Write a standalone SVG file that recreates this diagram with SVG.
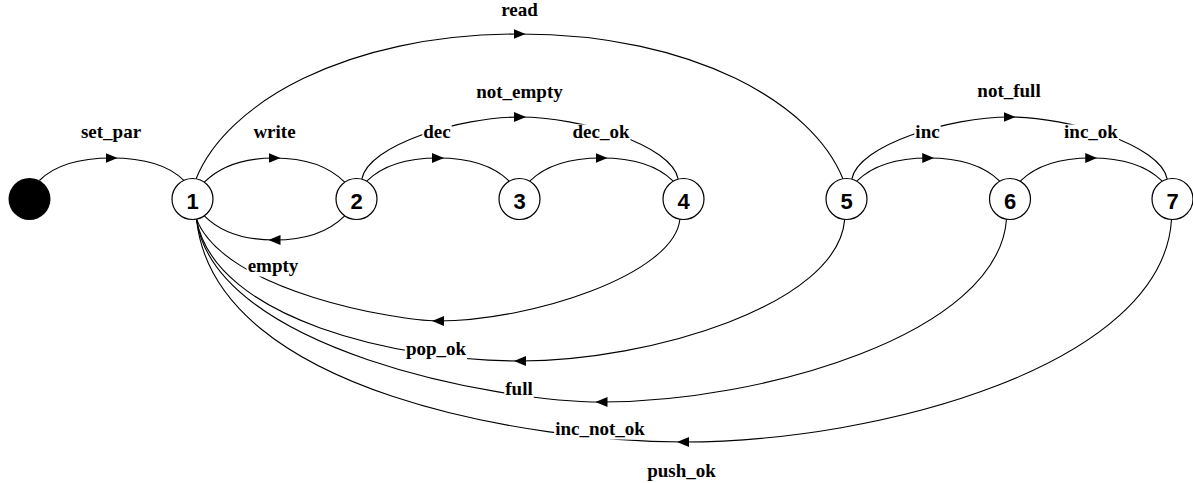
<svg xmlns="http://www.w3.org/2000/svg" width="1193" height="483" viewBox="0 0 1193 483">
  <style>
    .edge { fill: none; stroke: #000; stroke-width: 1.1; marker-mid: url(#arrow); }
    .lbl rect { fill: #fff; }
    .lbl text { font-family: "Liberation Serif", "Times New Roman", serif; font-weight: bold; font-size: 19px; text-anchor: middle; fill: #000; }
    .node circle { fill: #fff; stroke: #000; stroke-width: 1.2; }
    .node text { font-family: "Liberation Sans", Arial, sans-serif; font-weight: bold; font-size: 22px; text-anchor: middle; fill: #000; }
  </style>
  <defs>
    <!-- filled arrowhead, centred on the mid vertex of each transition -->
    <marker id="arrow" viewBox="-6 -6 12 12" markerWidth="12" markerHeight="12" refX="0" refY="0" orient="auto" markerUnits="userSpaceOnUse">
      <path d="M6,0 L-6,-5 L-6,5 Z" fill="#000"/>
    </marker>
  </defs>
  <rect width="1193" height="483" fill="#fff"/>

  <g id="connectors">
    <!-- upper transitions -->
    <path class="edge" d="M39.4,180.5 C55.4,164.5 81.6,158 111.6,158 C141.6,158 167.8,164.4 183.8,180.4"/>
    <path class="edge" d="M204.3,182.2 C220.3,166.2 244.5,158 274.5,158 C304.5,158 328.7,166.2 344.7,182.2"/>
    <path class="edge" d="M366.75,181.2 C382.75,165.2 408,158 438,158 C468,158 493.25,165.2 509.25,181.2"/>
    <path class="edge" d="M529.75,181.2 C545.75,165.2 571.5,158 601.5,158 C631.5,158 657.25,165.2 673.25,181.2"/>
    <path class="edge" d="M361.8,179.2 C368,145 460,117 520,117 C580,117 672,145 678.2,179.2"/>
    <path class="edge" d="M196.1,178.8 C226,104 345,34 519.5,34 C694,34 813,104 842.9,178.8"/>
    <path class="edge" d="M856.75,181.2 C872.75,165.2 898.25,158 928.25,158 C958.25,158 983.75,165.2 999.75,181.2"/>
    <path class="edge" d="M1020.25,181.2 C1036.25,165.2 1061.25,158 1091.25,158 C1121.25,158 1146.25,165.2 1162.25,181.2"/>
    <path class="edge" d="M851.8,179.2 C858,145 950,117 1009.5,117 C1069,117 1161,145 1167.2,179.2"/>
    <!-- return transitions into state 1 -->
    <path class="edge" d="M344.7,215.8 C328.7,231.8 304.5,240 274.5,240 C244.5,240 220.3,231.8 204.3,215.8"/>
    <path class="edge" d="M679.9,219.2 C674,275 530,321 438,321 C400,321 225,292 196.5,219.3"/>
    <path class="edge" d="M844.7,219.4 C838,305 650,361 520,361 C400,361 215,320 196.5,219.3"/>
    <path class="edge" d="M1006.5,219.2 C998,335 760,402 601.5,402 C500,402 215,350 196.5,219.3"/>
    <path class="edge" d="M1171.5,219.5 C1163,365 880,442 683,442 C540,442 215,395 196.5,219.3"/>

    <!-- transition labels -->
    <g class="lbl"><rect x="79.9" y="124.5" width="62.2" height="18"/><text x="111" y="138">set_par</text></g>
    <g class="lbl"><rect x="252.4" y="124.5" width="44.2" height="18"/><text x="274.5" y="138">write</text></g>
    <g class="lbl"><rect x="500" y="2.5" width="38.9" height="18"/><text x="519.5" y="16">read</text></g>
    <g class="lbl"><rect x="475.25" y="84.5" width="88.5" height="18"/><text x="519.5" y="98">not_empty</text></g>
    <g class="lbl"><rect x="422.3" y="124.5" width="29.4" height="18"/><text x="437" y="138">dec</text></g>
    <g class="lbl"><rect x="571.5" y="124.5" width="59" height="18"/><text x="601" y="138">dec_ok</text></g>
    <g class="lbl"><rect x="914.35" y="124.5" width="26.3" height="18"/><text x="927.5" y="138">inc</text></g>
    <g class="lbl"><rect x="976.35" y="83.5" width="65.3" height="18"/><text x="1009" y="97">not_full</text></g>
    <g class="lbl"><rect x="1063.1" y="124.5" width="55.8" height="18"/><text x="1091" y="138">inc_ok</text></g>
    <g class="lbl"><rect x="246.65" y="258.5" width="52.7" height="18"/><text x="273" y="272">empty</text></g>
    <g class="lbl"><rect x="404.9" y="341.5" width="62.2" height="18"/><text x="436" y="355">pop_ok</text></g>
    <g class="lbl"><rect x="504.25" y="381.5" width="29.5" height="18"/><text x="519" y="395">full</text></g>
    <g class="lbl"><rect x="554.15" y="421.5" width="91.7" height="18"/><text x="600" y="435">inc_not_ok</text></g>
    <g class="lbl"><rect x="646.2" y="463.5" width="70.6" height="18"/><text x="681.5" y="477">push_ok</text></g>
  </g>

  <!-- states -->
  <g id="init"><circle cx="29.5" cy="199" r="21" fill="#000"/></g>
  <g id="s1" class="node"><circle cx="192.5" cy="199" r="20.5"/><text x="192.5" y="208.5">1</text></g>
  <g id="s2" class="node"><circle cx="356.5" cy="199" r="20.5"/><text x="356.5" y="208.5">2</text></g>
  <g id="s3" class="node"><circle cx="519.5" cy="199" r="20.5"/><text x="519.5" y="208.5">3</text></g>
  <g id="s4" class="node"><circle cx="683.5" cy="199" r="20.5"/><text x="683.5" y="208.5">4</text></g>
  <g id="s5" class="node"><circle cx="846.5" cy="199" r="20.5"/><text x="846.5" y="208.5">5</text></g>
  <g id="s6" class="node"><circle cx="1010" cy="199" r="20.5"/><text x="1010" y="208.5">6</text></g>
  <g id="s7" class="node"><circle cx="1172.5" cy="199" r="20.5"/><text x="1172.5" y="208.5">7</text></g>
</svg>
